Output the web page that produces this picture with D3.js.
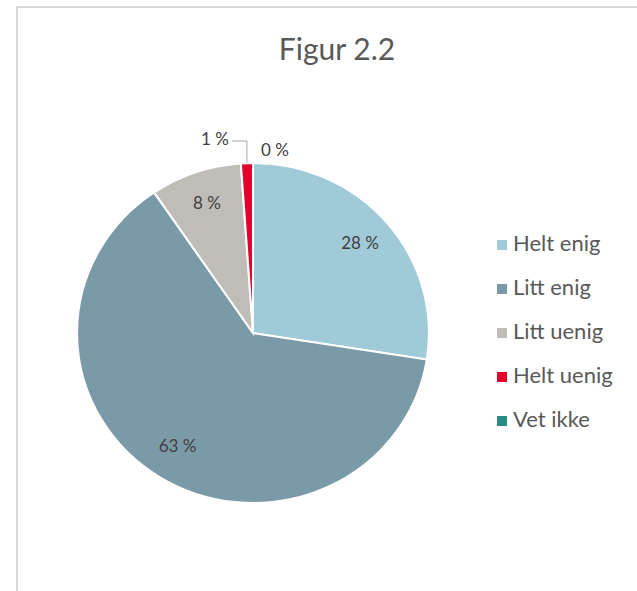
<!DOCTYPE html>
<html>
<head>
<meta charset="utf-8">
<script src="https://cdn.jsdelivr.net/npm/d3@7"></script>
<style>
  body { margin: 0; background: #fff; }
  svg { display: block; font-family: Lato, 'Open Sans', sans-serif; }
</style>
</head>
<body>
<svg id="chart" width="637" height="591"></svg>
<script>
const title = 'Figur 2.2';
const categories = ['Helt enig', 'Litt enig', 'Litt uenig', 'Helt uenig', 'Vet ikke'];
const shares = [27.5, 63.0, 8.4, 1.1, 0.0];
const colors = ['#a0cad8', '#7b9aa8', '#c0bcb8', '#e4002b', '#2a8a85'];

const svg = d3.select('#chart');
const width = +svg.attr('width');

// chart area frame, runs off the right and bottom edges
svg.append('rect')
  .attr('x', 17).attr('y', 7)
  .attr('width', width).attr('height', 700)
  .attr('fill', '#fff')
  .attr('stroke', '#d9d9d9')
  .attr('stroke-width', 2);

svg.append('text')
  .attr('x', 337).attr('y', 60)
  .attr('text-anchor', 'middle')
  .attr('font-size', 30)
  .attr('fill', '#595959')
  .text(title);

const data = categories.map((name, i) => ({ name, value: shares[i], color: colors[i] }));

const cx = 253;
const cy = 333;
const radius = 170;
const stretch = 1.035;

const pie = d3.pie().value((d) => d.value).sort(null);
const arc = d3.arc().innerRadius(0).outerRadius(radius);
const arcs = pie(data);

const g = svg.append('g')
  .attr('transform', `translate(${cx},${cy}) scale(${stretch},1)`);

g.selectAll('path')
  .data(arcs.filter((d) => d.data.value > 0))
  .enter()
  .append('path')
  .attr('d', arc)
  .attr('fill', (d) => d.data.color)
  .attr('stroke', '#fff')
  .attr('stroke-width', 2);

const fmt = (v) => `${Math.round(v)} %`;
const labels = svg.append('g').attr('font-size', 17).attr('fill', '#404040');

// large slices: label inside
const inner = d3.arc().innerRadius(radius * 0.8).outerRadius(radius * 0.8);
arcs.filter((d) => d.data.value >= 3).forEach((d) => {
  const [x, y] = inner.centroid(d);
  labels.append('text')
    .attr('x', cx + x * stretch)
    .attr('y', cy + y)
    .attr('text-anchor', 'middle')
    .attr('dominant-baseline', 'middle')
    .text(fmt(d.data.value));
});

// tiny slices: label above the pie, first one leftwards with a leader line
const small = arcs.filter((d) => d.data.value < 3);
small.forEach((d, i) => {
  const mid = (d.startAngle + d.endAngle) / 2;
  const px = cx + Math.sin(mid) * radius * stretch;
  const py = cy - Math.cos(mid) * radius;
  const ly = cy - radius - 22;
  if (i === 0) {
    const tx = px - 18;
    labels.append('text')
      .attr('x', tx).attr('y', ly)
      .attr('text-anchor', 'end')
      .attr('dominant-baseline', 'middle')
      .text(fmt(d.data.value));
    svg.append('polyline')
      .attr('points', `${tx + 3},${ly} ${px},${ly} ${px},${py}`)
      .attr('fill', 'none')
      .attr('stroke', '#a6a6a6')
      .attr('stroke-width', 1);
  } else {
    labels.append('text')
      .attr('x', px + 8).attr('y', ly + 11)
      .attr('text-anchor', 'start')
      .attr('dominant-baseline', 'middle')
      .text(fmt(d.data.value));
  }
});

// legend
const legend = svg.append('g').attr('transform', 'translate(497,245)');
const item = legend.selectAll('g')
  .data(data)
  .enter()
  .append('g')
  .attr('transform', (d, i) => `translate(0,${i * 44})`);

item.append('rect')
  .attr('x', 0).attr('y', -5)
  .attr('width', 10).attr('height', 10)
  .attr('fill', (d) => d.color);

item.append('text')
  .attr('x', 16).attr('y', 0)
  .attr('dominant-baseline', 'middle')
  .attr('font-size', 22)
  .attr('fill', '#595959')
  .text((d) => d.name);
</script>
</body>
</html>
